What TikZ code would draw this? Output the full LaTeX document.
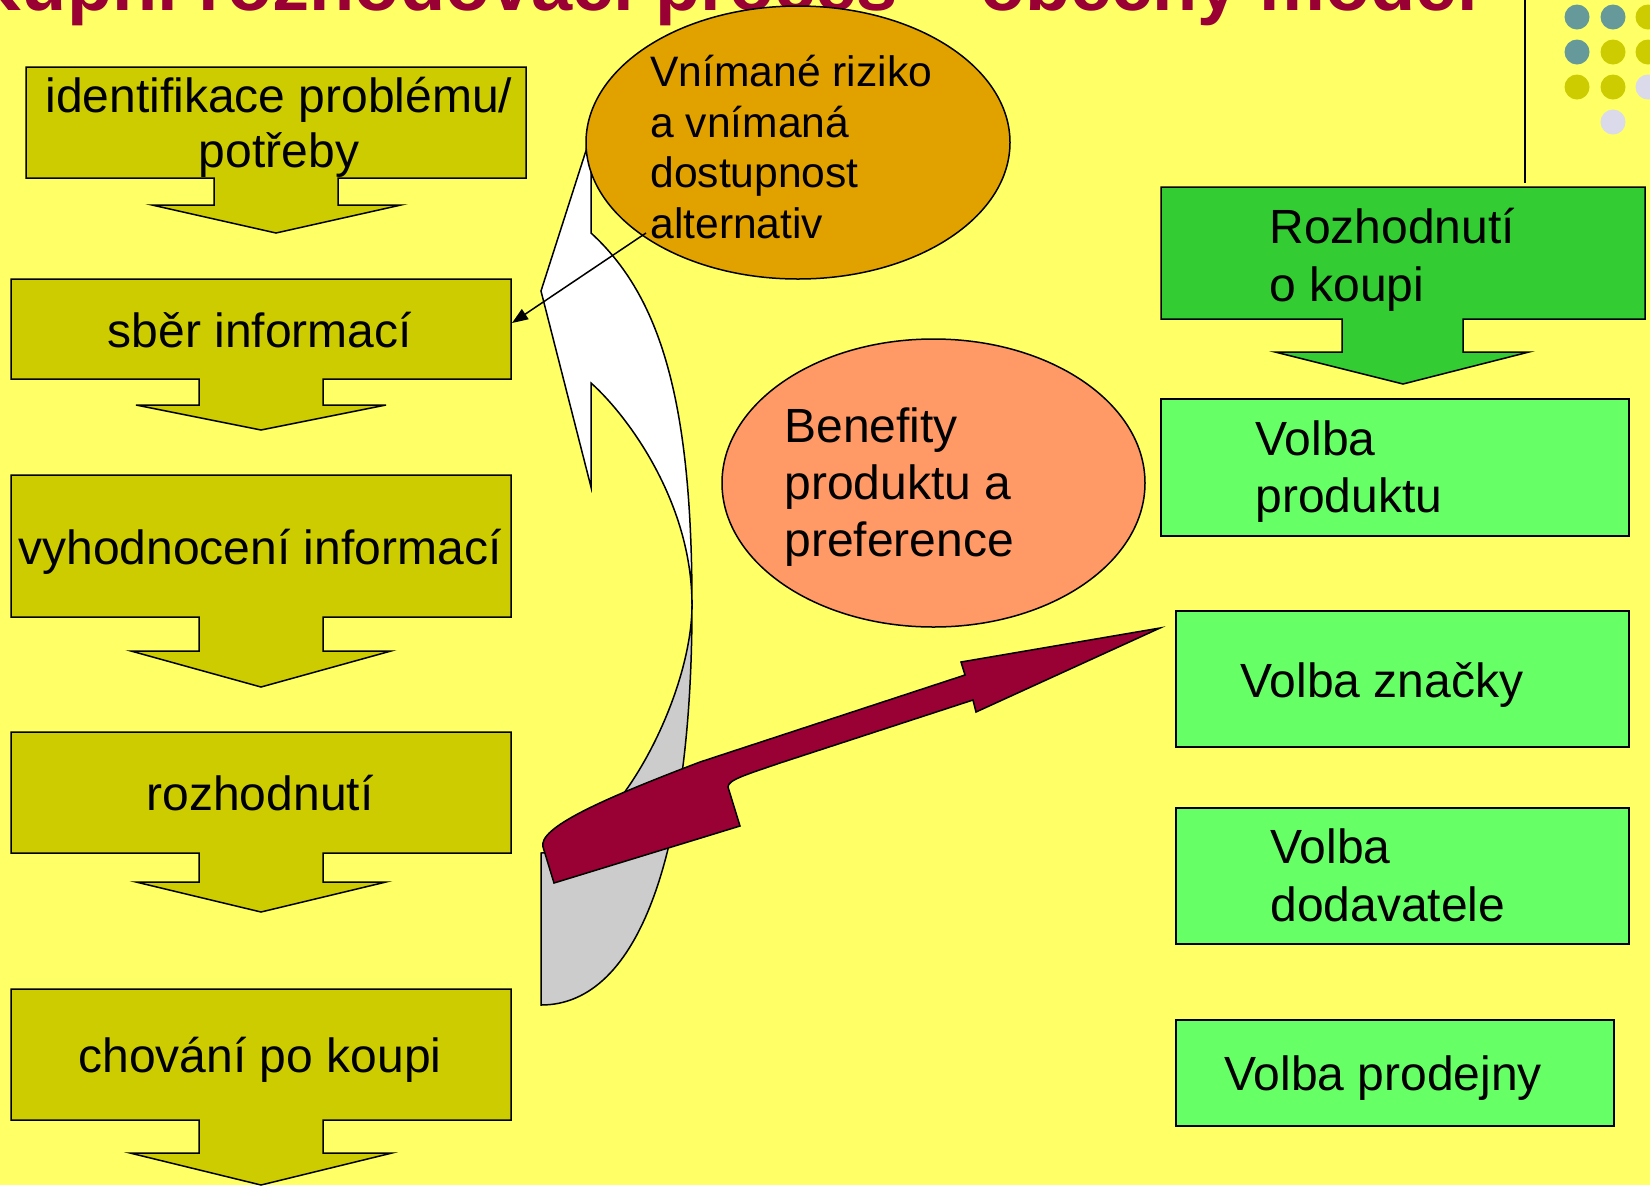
\documentclass[tikz,border=0pt]{standalone}
\usepackage{fontspec}
\setmainfont{Liberation Sans}
\usepackage{xcolor}
\usepackage{tikz}
\usetikzlibrary{shapes.geometric,arrows.meta}

\definecolor{bgyellow}{HTML}{FFFF66}
\definecolor{boxolive}{HTML}{CCCC00}
\definecolor{titlered}{HTML}{990033}
\definecolor{darkgreen}{HTML}{33CC33}
\definecolor{lightgreen}{HTML}{66FF66}
\definecolor{riskorange}{HTML}{E1A200}
\definecolor{salmon}{HTML}{FF9966}
\definecolor{dotteal}{HTML}{669999}
\definecolor{dotlav}{HTML}{DADAEB}
\definecolor{backgray}{HTML}{CCCCCC}

\begin{document}
\begin{tikzpicture}[x=0.5pt,y=-0.5pt,
    callout/.style={draw=black, line width=0.75pt, line join=miter},
    greenbox/.style={draw=black, line width=0.75pt, fill=lightgreen},
    blob/.style={shape=ellipse, draw=black, line width=0.75pt, inner sep=0pt},
    lbl/.style={inner sep=0pt, font=\fontsize{24}{28.5}\selectfont},
    title/.style={inner sep=0pt, text=titlered, font=\fontsize{37}{44}\selectfont\bfseries}]
    \useasboundingbox (0,0) rectangle (1650,1185);
    \fill[bgyellow] (0,0) rectangle (1650,1185);

    % heading and template decoration
    \node[title, anchor=base east] (title) at (1478,10) {Kupní rozhodovací proces – obecný model};
    \draw[line width=1pt] (1525,0) -- (1525,183);
    \foreach \cx/\cy/\col in {1577/17/dotteal, 1613/17/dotteal, 1648/17/boxolive,
        1577/52/dotteal, 1613/52/boxolive, 1648/52/boxolive,
        1577/87/boxolive, 1613/87/boxolive, 1648/87/dotlav, 1613/122/dotlav}
        \fill[\col] (\cx,\cy) circle[radius=12.5];

    % left column
    \draw[callout, fill=boxolive] (26,67) -- (526,67) -- (526,178) -- (338,178) -- (338,205) -- (401,205)
        -- (276,233) -- (152,205) -- (214,205) -- (214,178) -- (26,178) -- cycle;
    \foreach \top/\bot/\sb/\hw/\ty in {279/379/405/125/430, 475/617/651/130/687,
        732/853/882/125/912, 989/1120/1153/131/1185}
        \draw[callout, fill=boxolive] (11,\top) -- (511,\top) -- (511,\bot) -- (323,\bot) -- (323,\sb)
            -- (261+\hw,\sb) -- (261,\ty) -- (261-\hw,\sb) -- (199,\sb) -- (199,\bot) -- (11,\bot) -- cycle;
    \node[lbl, anchor=base, align=center, font=\fontsize{24}{27.5}\selectfont] (ident) at (279,167) {identifikace problému/\\potřeby};
    \node[lbl, anchor=base] (sber) at (260,347) {sběr informací};
    \node[lbl, anchor=base] (vyhod) at (260,564) {vyhodnocení informací};
    \node[lbl, anchor=base] (rozhod) at (260,810) {rozhodnutí};
    \node[lbl, anchor=base] (chovani) at (260,1072) {chování po koupi};

    % curved arrow, back and front
    \draw[callout, fill=backgray] (541,853) .. controls (610,853) and (692,700) .. (692,605)
        .. controls (692,850) and (640,1005) .. (541,1005) -- cycle;
    \draw[callout, fill=white] (591,135) -- (591,233) .. controls (660,296) and (692,400) .. (692,605)
        .. controls (692,500) and (625,413) .. (591,383) -- (591,487) -- (541,291) -- cycle;

    % ellipses
    \node[blob, fill=riskorange, minimum width=212pt, minimum height=136.5pt] (risk) at (798,142.5) {};
    \node[lbl, anchor=base west, align=left, font=\fontsize{21.3}{25.25}\selectfont] (risktext) at (650,238)
        {Vnímané riziko\\a vnímaná\\dostupnost\\alternativ};
    \node[blob, fill=salmon, minimum width=211.5pt, minimum height=144pt] (benefit) at (933.5,483) {};
    \node[lbl, anchor=base west, align=left] (benefittext) at (784,556) {Benefity\\produktu a\\preference};

    \coordinate (riskfoot) at (646,233);
    \coordinate (sberedge) at (512,323);
    \draw[line width=0.75pt, -{Triangle[length=8pt,width=6pt]}] (riskfoot) -- (sberedge);

    % maroon arrow
    \draw[callout, fill=titlered] (543,847) .. controls (538,828) and (600,800) .. (700,762) -- (965,675)
        -- (961,662) -- (1160,628) -- (976,712) -- (973,700) -- (780,763)
        .. controls (745,775) and (728,780) .. (728,787) -- (740,826) -- (554,883) -- cycle;

    % right column
    \draw[callout, fill=darkgreen] (1161,187) -- (1645,187) -- (1645,319) -- (1463,319) -- (1463,352) -- (1529,352)
        -- (1403,384) -- (1275,352) -- (1342,352) -- (1342,319) -- (1161,319) -- cycle;
    \foreach \xa/\ya/\xb/\yb in {1161/399/1629/536, 1176/611/1629/747, 1176/808/1629/944, 1176/1020/1614/1126}
        \draw[greenbox] (\xa,\ya) rectangle (\xb,\yb);
    \node[lbl, anchor=base west, align=left, font=\fontsize{24}{29}\selectfont] (decide) at (1269,301) {Rozhodnutí\\o koupi};
    \node[lbl, anchor=base west, align=left] (product) at (1255,512) {Volba\\produktu};
    \node[lbl, anchor=base west] (brand) at (1240,697) {Volba značky};
    \node[lbl, anchor=base west, align=left, font=\fontsize{24}{29}\selectfont] (supplier) at (1270,921) {Volba\\dodavatele};
    \node[lbl, anchor=base west] (shop) at (1224,1090) {Volba prodejny};
\end{tikzpicture}
\end{document}
